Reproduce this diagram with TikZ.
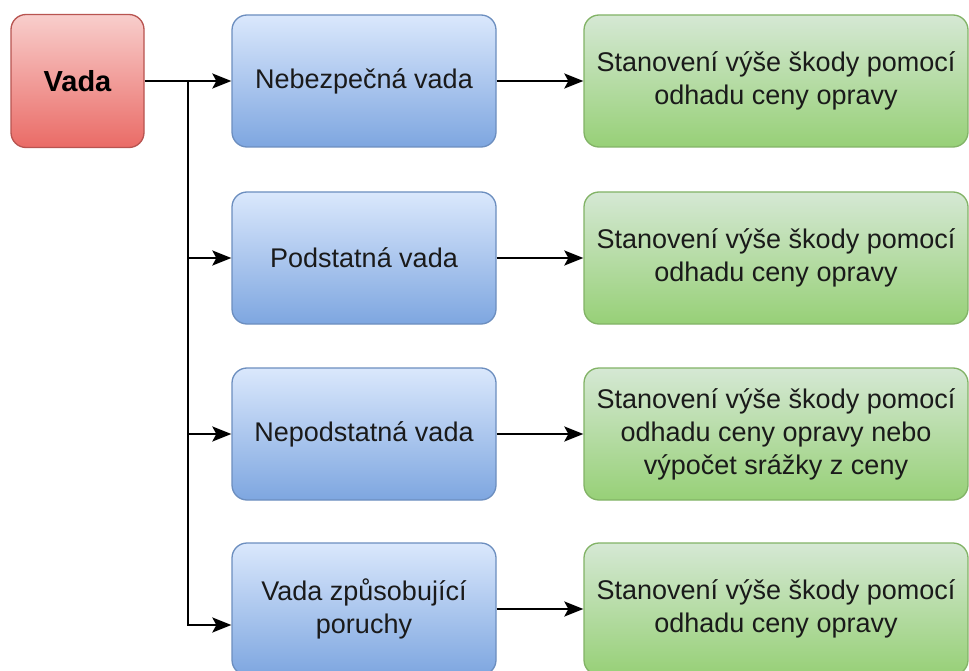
\documentclass[tikz,border=0pt]{standalone}
\usepackage{fontspec}
\setmainfont{Liberation Sans}
\usetikzlibrary{arrows.meta,calc}
\definecolor{redtop}{HTML}{F8CECC}
\definecolor{redbot}{HTML}{EA6B66}
\definecolor{redline}{HTML}{B85450}
\definecolor{bluetop}{HTML}{DAE8FC}
\definecolor{bluebot}{HTML}{7EA6E0}
\definecolor{blueline}{HTML}{6C8EBF}
\definecolor{greentop}{HTML}{D5E8D4}
\definecolor{greenbot}{HTML}{97D077}
\definecolor{greenline}{HTML}{82B366}
\definecolor{txt}{HTML}{1A1A1A}
\tikzset{
  box/.style={rounded corners=15pt, line width=1.3pt, align=center, text=txt,
    inner sep=0pt, font=\fontsize{27}{33}\selectfont},
  redbox/.style={box, draw=redline, top color=redtop, bottom color=redbot,
    minimum width=133pt, minimum height=133pt, font=\fontsize{29}{34}\selectfont\bfseries, text=black},
  bluebox/.style={box, draw=blueline, top color=bluetop, bottom color=bluebot,
    minimum width=264pt, minimum height=132pt},
  greenbox/.style={box, draw=greenline, top color=greentop, bottom color=greenbot,
    minimum width=384pt, minimum height=132pt},
  conn/.style={line width=2.3pt, black, -{Stealth[length=19pt,width=15pt,inset=4pt]}},
}
\begin{document}
\begin{tikzpicture}[x=1pt,y=-1pt]
\useasboundingbox[fill=white] (0,0) rectangle (969,671);
\node[redbox] (vada) at (77.5,81) {Vada};
\node[bluebox] (b1) at (364,81) {Nebezpečná vada};
\node[bluebox] (b2) at (364,258) {Podstatná vada};
\node[bluebox] (b3) at (364,434) {Nepodstatná vada};
\node[bluebox] (b4) at (364,609) {Vada způsobující\\poruchy};
\node[greenbox] (g1) at (776,81) {Stanovení výše škody pomocí\\odhadu ceny opravy};
\node[greenbox] (g2) at (776,258) {Stanovení výše škody pomocí\\odhadu ceny opravy};
\node[greenbox] (g3) at (776,434) {Stanovení výše škody pomocí\\odhadu ceny opravy nebo\\výpočet srážky z ceny};
\node[greenbox] (g4) at (776,609) {Stanovení výše škody pomocí\\odhadu ceny opravy};
\coordinate (trunk) at (188,81);
\coordinate (in4) at ($(b4.west)+(0,16)$);
\draw[conn] (vada.east) -- (b1.west);
\draw[conn] (trunk) |- (b2.west);
\draw[conn] (trunk) |- (b3.west);
\draw[conn] (trunk) |- (in4);
\draw[conn] (b1.east) -- (g1.west);
\draw[conn] (b2.east) -- (g2.west);
\draw[conn] (b3.east) -- (g3.west);
\draw[conn] (b4.east) -- (g4.west);
\end{tikzpicture}
\end{document}
